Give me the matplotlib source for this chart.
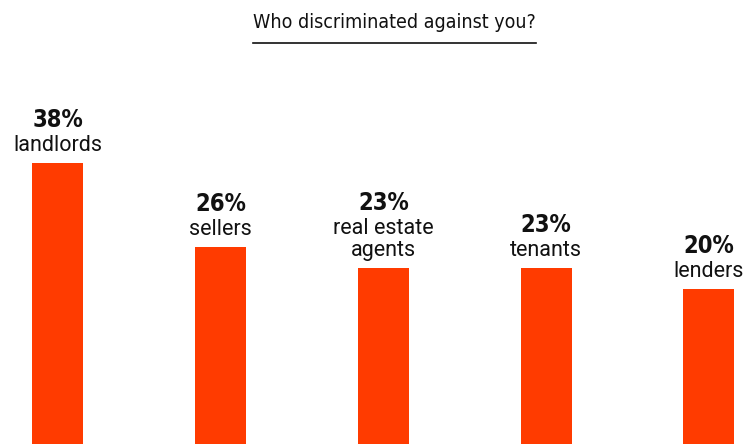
import numpy as np
import matplotlib.pyplot as plt
from matplotlib.lines import Line2D

categories = ["landlords", "sellers", "real estate\nagents", "tenants", "lenders"]
percents = [38, 26, 23, 23, 20]
title = "Who discriminated against you?"

bar_color = "#ff3b00"
cond = dict(family="DejaVu Sans", stretch="condensed")

fig = plt.figure(figsize=(7.49, 4.44), dpi=100)
ax = fig.add_axes([0, 0, 1, 1])

x = np.arange(len(categories))
base = -4  # bars run off the bottom edge
ax.bar(x, np.array(percents) - base, bottom=base, width=0.313,
       color=bar_color, linewidth=0)

ax.set_xlim(-0.356, 4.246)
ax.set_ylim(-2.14, 61.3)
ax.axis("off")

for i, (cat, p) in enumerate(zip(categories, percents)):
    name = ax.annotate(cat, xy=(i, p), xytext=(0, 5), textcoords="offset points",
                       ha="center", va="bottom", fontsize=15.5, family="Roboto",
                       color="#111111", linespacing=1.1)
    ax.annotate(f"{p}%", xy=(0.5, 1), xycoords=name, xytext=(0, 2),
                textcoords="offset points", ha="center", va="bottom",
                fontsize=17, fontweight="bold", color="#111111", **cond)

t = fig.text(0.527, 0.95, title, ha="center", va="center", fontsize=14,
             color="#111111", **cond)

# underline under the title
fig.canvas.draw()
bb = t.get_window_extent().transformed(fig.transFigure.inverted())
y_line = 1 - 43 / 444
fig.add_artist(Line2D([bb.x0, bb.x1], [y_line, y_line], color="#111111",
                      linewidth=1.2, transform=fig.transFigure))

fig.savefig("out.png", dpi=100)
